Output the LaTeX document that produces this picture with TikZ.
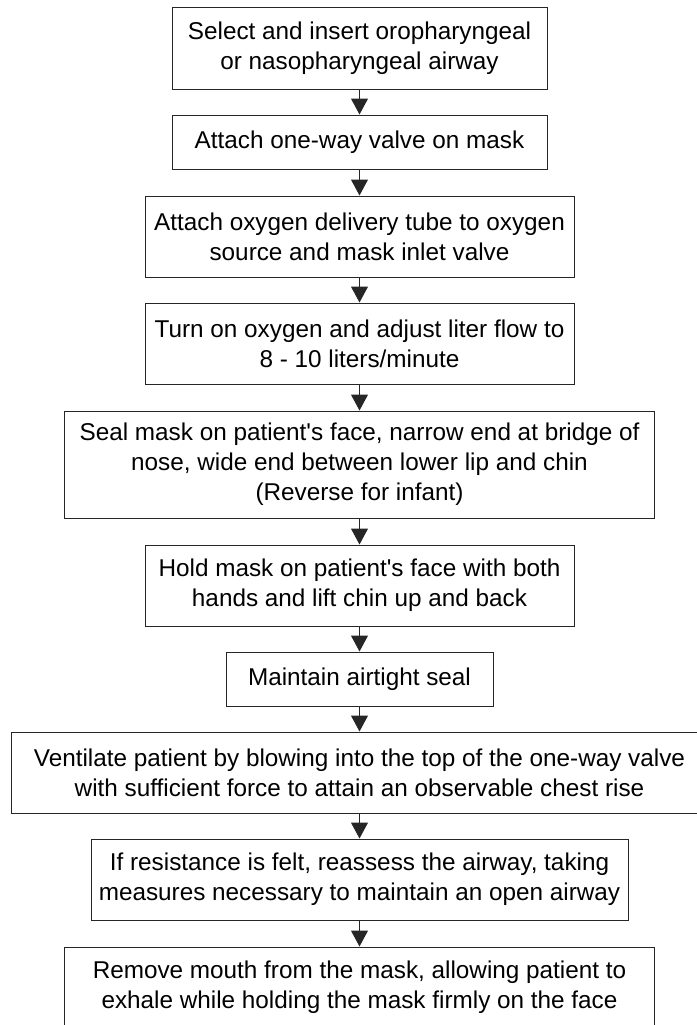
\documentclass[tikz,border=0pt]{standalone}
\usepackage{fontspec}
\setmainfont{Liberation Sans}
\usetikzlibrary{arrows.meta}
\begin{document}
\begin{tikzpicture}[x=1pt,y=1pt,
  stepbox/.style={draw=black!85, line width=1pt, rectangle, inner sep=0pt, align=center,
    font=\fontsize{24.3}{30}\selectfont},
  arr/.style={draw=black!85, line width=1pt, -{Triangle[length=16pt,width=17pt]}}]
\useasboundingbox (0,0) rectangle (696,-1025);
\node[stepbox, minimum width=375, minimum height=81] (b1) at (359.5,-48.5) {Select and insert oropharyngeal\\or nasopharyngeal airway};
\node[stepbox, minimum width=375, minimum height=54] (b2) at (359.5,-142) {Attach one-way valve on mask};
\node[stepbox, minimum width=429, minimum height=81] (b3) at (359.5,-236.5) {Attach oxygen delivery tube to oxygen\\source and mask inlet valve};
\node[stepbox, minimum width=429, minimum height=81] (b4) at (359.5,-343.5) {Turn on oxygen and adjust liter flow to\\8 - 10 liters/minute};
\node[stepbox, minimum width=590, minimum height=107] (b5) at (359.5,-464.5) {Seal mask on patient\textquotesingle s face, narrow end at bridge of\\nose, wide end between lower lip and chin\\(Reverse for infant)};
\node[stepbox, minimum width=429, minimum height=81] (b6) at (359.5,-585.5) {Hold mask on patient\textquotesingle s face with both\\hands and lift chin up and back};
\node[stepbox, minimum width=267, minimum height=54] (b7) at (359.5,-679) {Maintain airtight seal};
\node[stepbox, minimum width=697, minimum height=81] (b8) at (359.5,-772.5) {Ventilate patient by blowing into the top of the one-way valve\\with sufficient force to attain an observable chest rise};
\node[stepbox, minimum width=537, minimum height=81] (b9) at (359.5,-879.5) {If resistance is felt, reassess the airway, taking\\measures necessary to maintain an open airway};
\node[stepbox, minimum width=590, minimum height=81] (b10) at (359.5,-987.5) {Remove mouth from the mask, allowing patient to\\exhale while holding the mask firmly on the face};
\draw[arr] (b1) -- (b2);
\draw[arr] (b2) -- (b3);
\draw[arr] (b3) -- (b4);
\draw[arr] (b4) -- (b5);
\draw[arr] (b5) -- (b6);
\draw[arr] (b6) -- (b7);
\draw[arr] (b7) -- (b8);
\draw[arr] (b8) -- (b9);
\draw[arr] (b9) -- (b10);
\end{tikzpicture}
\end{document}
